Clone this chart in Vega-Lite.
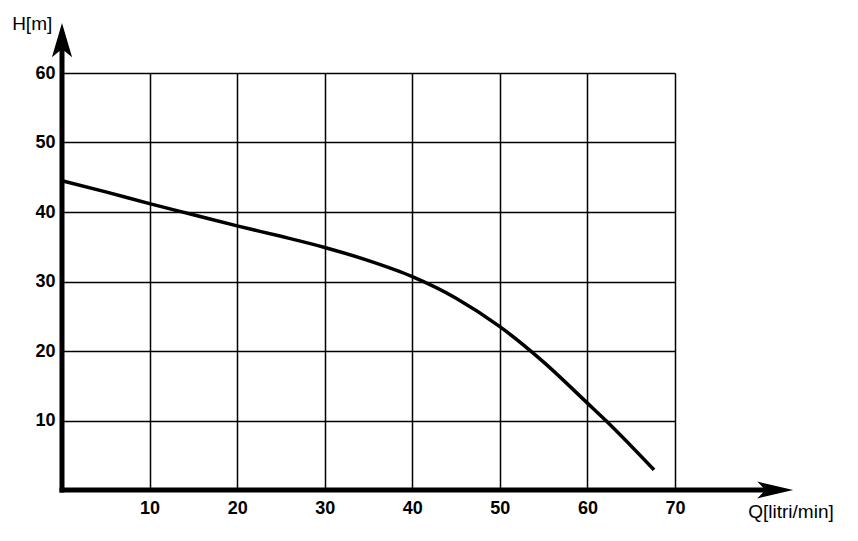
{
  "$schema": "https://vega.github.io/schema/vega-lite/v6.json",
  "width": 613,
  "height": 417,
  "autosize": {"type": "none"},
  "padding": {"left": 62, "top": 73, "right": 183, "bottom": 51},
  "background": "white",
  "config": {
    "view": {"stroke": null},
    "axis": {
      "grid": true,
      "gridColor": "black",
      "gridOpacity": 1,
      "gridWidth": 1.5,
      "domain": false,
      "ticks": false,
      "tickSize": 0,
      "labelFont": "Liberation Sans",
      "labelFontWeight": "bold",
      "labelFontSize": 18,
      "labelColor": "black",
      "labelFlush": false,
      "titleFont": "Liberation Sans",
      "titleFontWeight": "normal",
      "titleFontSize": 19,
      "titleColor": "black"
    }
  },
  "datasets": {
    "curve": [
      {"Q": 0, "H": 44.5},
      {"Q": 5, "H": 42.9},
      {"Q": 10, "H": 41.2},
      {"Q": 15, "H": 39.6},
      {"Q": 20, "H": 38.0},
      {"Q": 25, "H": 36.5},
      {"Q": 30, "H": 34.9},
      {"Q": 35, "H": 33.0},
      {"Q": 40, "H": 30.7},
      {"Q": 45, "H": 27.6},
      {"Q": 50, "H": 23.5},
      {"Q": 55, "H": 18.4},
      {"Q": 60, "H": 12.5},
      {"Q": 62.1, "H": 10},
      {"Q": 67.6, "H": 2.9}
    ],
    "axes": [
      {"Q": 0, "Q2": 80.5, "H": 0, "H2": 0},
      {"Q": 0, "Q2": 0, "H": 0, "H2": 63.4}
    ],
    "arrows": [
      {"Q": 83.5, "H": 0, "dir": "Q"},
      {"Q": 0, "H": 67.2, "dir": "H"}
    ]
  },
  "layer": [
    {
      "data": {"name": "curve"},
      "mark": {"type": "line", "color": "black", "strokeWidth": 3.5, "interpolate": "monotone"},
      "encoding": {
        "x": {
          "field": "Q", "type": "quantitative",
          "scale": {"domain": [0, 70], "nice": false, "zero": false},
          "axis": {
            "values": [10, 20, 30, 40, 50, 60, 70],
            "labelPadding": 9,
            "title": "Q[litri/min]",
            "titleX": 728.5,
            "titleY": 27,
            "titleAlign": "center",
            "titleBaseline": "alphabetic",
            "titleAnchor": "start"
          }
        },
        "y": {
          "field": "H", "type": "quantitative",
          "scale": {"domain": [0, 60], "nice": false, "zero": false},
          "axis": {
            "values": [10, 20, 30, 40, 50, 60],
            "labelPadding": 7,
            "title": "H[m]",
            "titleAngle": 0,
            "titleX": -30.3,
            "titleY": -43.7,
            "titleAlign": "center",
            "titleBaseline": "alphabetic",
            "titleAnchor": "start"
          }
        }
      }
    },
    {
      "data": {"name": "axes"},
      "mark": {"type": "rule", "color": "black", "strokeWidth": 5, "strokeCap": "square"},
      "encoding": {
        "x": {"field": "Q", "type": "quantitative", "scale": {"domain": [0, 70], "nice": false, "zero": false}},
        "x2": {"field": "Q2"},
        "y": {"field": "H", "type": "quantitative", "scale": {"domain": [0, 60], "nice": false, "zero": false}},
        "y2": {"field": "H2"}
      }
    },
    {
      "data": {"name": "arrows"},
      "mark": {"type": "point", "filled": true, "color": "black", "opacity": 1, "size": 1296, "strokeWidth": 0},
      "encoding": {
        "x": {"field": "Q", "type": "quantitative", "scale": {"domain": [0, 70], "nice": false, "zero": false}},
        "y": {"field": "H", "type": "quantitative", "scale": {"domain": [0, 60], "nice": false, "zero": false}},
        "shape": {
          "field": "dir", "type": "nominal",
          "scale": {
            "domain": ["Q", "H"],
            "range": ["M0,0L-2,-0.47L-1.55,0L-2,0.47Z", "M0,0L0.56,1.9L0,1.45L-0.56,1.9Z"]
          },
          "legend": null
        }
      }
    }
  ]
}
